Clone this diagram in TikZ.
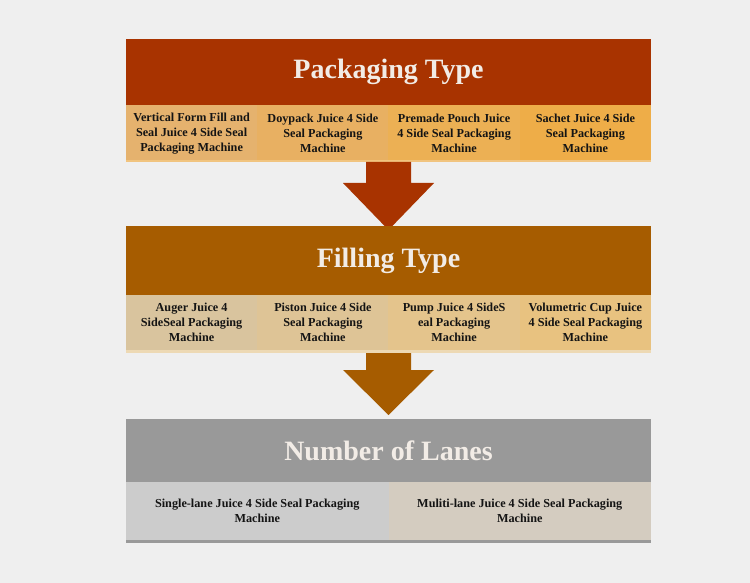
\documentclass[tikz,border=0pt]{standalone}
\usepackage{fontspec}
\setmainfont{Liberation Serif}
\usetikzlibrary{calc}
\definecolor{bg}{HTML}{EFEFEF}
\definecolor{pkhead}{HTML}{A83300}
\definecolor{pkA}{HTML}{E5B26E}
\definecolor{pkB}{HTML}{E8B062}
\definecolor{pkC}{HTML}{ECB054}
\definecolor{pkD}{HTML}{EEAD48}
\definecolor{fihead}{HTML}{A65C00}
\definecolor{fiA}{HTML}{D9C49E}
\definecolor{fiB}{HTML}{DEC496}
\definecolor{fiC}{HTML}{E4C48C}
\definecolor{fiD}{HTML}{E8C280}
\definecolor{nuhead}{HTML}{999999}
\definecolor{nuA}{HTML}{CCCCCC}
\definecolor{nuB}{HTML}{D4CCC0}
\definecolor{titletxt}{HTML}{F2ECE6}
\definecolor{celltxt}{HTML}{141414}
\tikzset{
  headbox/.style={rectangle, inner sep=0pt, outer sep=0pt, minimum width=525pt,
    font=\fontsize{28}{32}\selectfont\bfseries, text=titletxt},
  cellbox/.style={rectangle, inner sep=0pt, outer sep=0pt, minimum width=131.25pt,
    align=center, text=celltxt, font=\fontsize{12.2}{15}\selectfont\bfseries},
  widecell/.style={cellbox, minimum width=262.5pt},
}
\begin{document}
\begin{tikzpicture}[x=1pt,y=-1pt]
\fill[bg] (0,0) rectangle (750,583);
\useasboundingbox (0,0) rectangle (750,583);
% Packaging
\node[headbox, fill=pkhead, minimum height=66pt] (pt) at (388.5,72) {Packaging Type};
\node[cellbox, fill=pkA, minimum height=57pt] (p1) at (191.6,133.5) {Vertical Form Fill and\\Seal Juice 4 Side Seal\\Packaging Machine};
\node[cellbox, fill=pkB, minimum height=57pt] (p2) at (322.9,133.5) {Doypack Juice 4 Side\\Seal Packaging\\Machine};
\node[cellbox, fill=pkC, minimum height=57pt] (p3) at (454.1,133.5) {Premade Pouch Juice\\4 Side Seal Packaging\\Machine};
\node[cellbox, fill=pkD, minimum height=57pt] (p4) at (585.4,133.5) {Sachet Juice 4 Side\\Seal Packaging\\Machine};
\fill[pkC!75!white] (p1.south west) rectangle ($(p4.south east)+(0,-2)$);
% Arrow 1
\fill[pkhead] ($(pt.south |- p1.south)+(-22.5,0)$) -- ++(45,0) -- ++(0,21) -- ++(23,0)
  -- (388.5,230) -- (343,183) -- ++(23,0) -- cycle;
% Filling
\node[headbox, fill=fihead, minimum height=69pt] (ft) at (388.5,260.5) {Filling Type};
\node[cellbox, fill=fiA, minimum height=55pt] (f1) at (191.6,322.5) {Auger Juice 4\\SideSeal Packaging\\Machine};
\node[cellbox, fill=fiB, minimum height=55pt] (f2) at (322.9,322.5) {Piston Juice 4 Side\\Seal Packaging\\Machine};
\node[cellbox, fill=fiC, minimum height=55pt] (f3) at (454.1,322.5) {Pump Juice 4 SideS\\eal Packaging\\Machine};
\node[cellbox, fill=fiD, minimum height=55pt] (f4) at (585.4,322.5) {Volumetric Cup Juice\\4 Side Seal Packaging\\Machine};
\fill[fiC!65!white] (f1.south west) rectangle ($(f4.south east)+(0,3)$);
% Arrow 2
\fill[fihead] ($(ft.south |- f1.south)+(-22.5,3)$) -- ++(45,0) -- (411,370) -- (434,370)
  -- (388.5,415) -- (343,370) -- (366,370) -- cycle;
% Number of lanes
\node[headbox, fill=nuhead, minimum height=63pt] (nt) at (388.5,450.5) {Number of Lanes};
\node[widecell, fill=nuA, minimum height=58pt] (n1) at (257.25,511) {Single-lane Juice 4 Side Seal Packaging\\Machine};
\node[widecell, fill=nuB, minimum height=58pt] (n2) at (519.75,511) {Muliti-lane Juice 4 Side Seal Packaging\\Machine};
\fill[nuhead] (n1.south west) rectangle ($(n2.south east)+(0,3)$);
\end{tikzpicture}
\end{document}
